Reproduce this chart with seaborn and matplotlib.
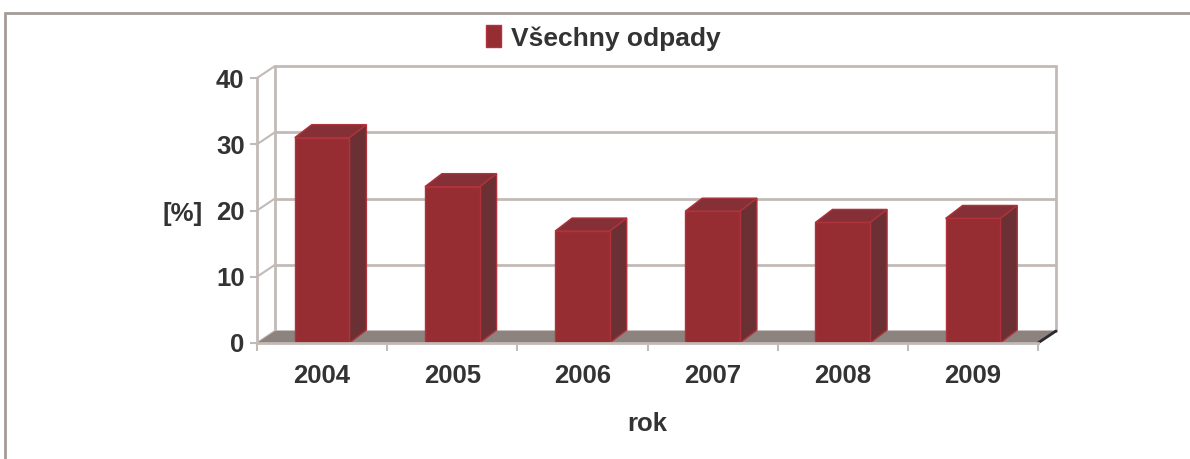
import matplotlib
matplotlib.use("Agg")
import matplotlib.pyplot as plt
import seaborn as sns
import pandas as pd
import numpy as np
from matplotlib.patches import Polygon, Rectangle

# ---- data ----
years = ["2004", "2005", "2006", "2007", "2008", "2009"]
values = [31.0, 23.6, 16.9, 19.9, 18.2, 18.8]
y_ticks = [0, 10, 20, 30, 40]
series_name = "Všechny odpady"
x_label = "rok"
y_label = "[%]"

# ---- style ----
FRONT = "#962d33"
SIDE = "#6b3034"
TOP = "#853037"
EDGE = "#b0323a"
FLOOR = "#8c827e"
GRID = "#c2bab6"
TEXT = "#333333"
FRAME = "#a39c98"

sns.set_theme(style="white")
plt.rcParams['font.family'] = ['Liberation Sans', 'DejaVu Sans']

W, H = 1190, 459
fig = plt.figure(figsize=(W / 100, H / 100), dpi=100)
ax_l, ax_r, ax_t, ax_b = 257, 1038, 78, 343
ax = fig.add_axes([ax_l / W, 1 - ax_b / H, (ax_r - ax_l) / W, (ax_b - ax_t) / H])

df = pd.DataFrame({"rok": years, "hodnota": values})
sns.barplot(data=df, x="rok", y="hodnota", color=FRONT, width=0.42, saturation=1,
            edgecolor=EDGE, linewidth=1, label=series_name, ax=ax, zorder=5)
bars = list(ax.patches)

ax.set_xlim(-0.5, len(years) - 0.5)
ax.set_ylim(y_ticks[0], y_ticks[-1])
ax.set_yticks(y_ticks)
ax.set_xlabel("")
ax.set_ylabel("")
ax.patch.set_alpha(0)


def shift(x, y, dx, dy):
    p = ax.transData.transform((x, y))
    return tuple(ax.transData.inverted().transform(p + np.array([dx, dy])))


WDX, WDY = 18, 12   # back wall offset in pixels
BDX, BDY = 17, 13   # bar depth in pixels
x0, x1 = -0.5, len(years) - 0.5

# back wall gridlines and verticals
for yt in y_ticks:
    a = shift(x0, yt, WDX, WDY)
    b = shift(x1, yt, WDX, WDY)
    ax.plot([a[0], b[0]], [a[1], b[1]], color=GRID, lw=2, clip_on=False, zorder=1)
    ax.plot([x0, a[0]], [yt, a[1]], color=GRID, lw=1.5, clip_on=False, zorder=1)
for xv in (x0, x1):
    a = shift(xv, y_ticks[0], WDX, WDY)
    b = shift(xv, y_ticks[-1], WDX, WDY)
    ax.plot([a[0], b[0]], [a[1], b[1]], color=GRID, lw=2, clip_on=False, zorder=1)

# floor
floor = Polygon([(x0, 0), (x1, 0), shift(x1, 0, WDX, WDY), shift(x0, 0, WDX, WDY)],
                closed=True, facecolor=FLOOR, edgecolor="none", clip_on=False, zorder=2)
ax.add_patch(floor)
c = shift(x1, 0, WDX, WDY)
ax.plot([x1, c[0]], [0, c[1]], color="#2b2b2b", lw=2, clip_on=False, zorder=3)

# 3D faces of bars
for p in bars:
    bx, bw, bh = p.get_x(), p.get_width(), p.get_height()
    side = Polygon([(bx + bw, 0), (bx + bw, bh), shift(bx + bw, bh, BDX, BDY), shift(bx + bw, 0, BDX, BDY)],
                   closed=True, facecolor=SIDE, edgecolor=EDGE, lw=1, clip_on=False, zorder=4)
    top = Polygon([(bx, bh), (bx + bw, bh), shift(bx + bw, bh, BDX, BDY), shift(bx, bh, BDX, BDY)],
                  closed=True, facecolor=TOP, edgecolor=EDGE, lw=1, clip_on=False, zorder=4)
    ax.add_patch(side)
    ax.add_patch(top)

# spines / ticks
for s in ("top", "right"):
    ax.spines[s].set_visible(False)
for s in ("left", "bottom"):
    ax.spines[s].set_color(GRID)
    ax.spines[s].set_linewidth(2)
    ax.spines[s].set_zorder(6)

ax.set_xticks(np.arange(len(years)))
ax.set_xticklabels(years)
ax.set_xticks(np.arange(len(years) + 1) - 0.5, minor=True)
ax.tick_params(axis="x", which="major", length=0, pad=15, labelsize=18.5, labelcolor=TEXT)
ax.tick_params(axis="x", which="minor", bottom=True, length=6, width=1.5, color=GRID)
ax.tick_params(axis="y", which="major", left=True, length=5, width=1.5, color=GRID,
               pad=4, labelsize=18.5, labelcolor=TEXT)
for lab in ax.get_xticklabels() + ax.get_yticklabels():
    lab.set_fontweight("bold")

fig.text(647 / W, 1 - 424 / H, x_label, ha="center", va="center", fontsize=18.5,
         fontweight="bold", color=TEXT)
fig.text(183 / W, 1 - 214 / H, y_label, ha="center", va="center", fontsize=18.5,
         fontweight="bold", color=TEXT)

leg = ax.legend(loc="center", bbox_to_anchor=(603 / W, 1 - 38 / H), bbox_transform=fig.transFigure,
                frameon=False, handlelength=0.6, handleheight=0.9, handletextpad=0.35,
                prop={"size": 19, "weight": "bold"})
for t in leg.get_texts():
    t.set_color(TEXT)

# outer frame
fig.patches.append(Rectangle((5 / W, -0.1), 2.0, 1.1 - 13 / H, transform=fig.transFigure,
                             fill=False, edgecolor=FRAME, lw=2))

fig.savefig("out.png", dpi=100)
